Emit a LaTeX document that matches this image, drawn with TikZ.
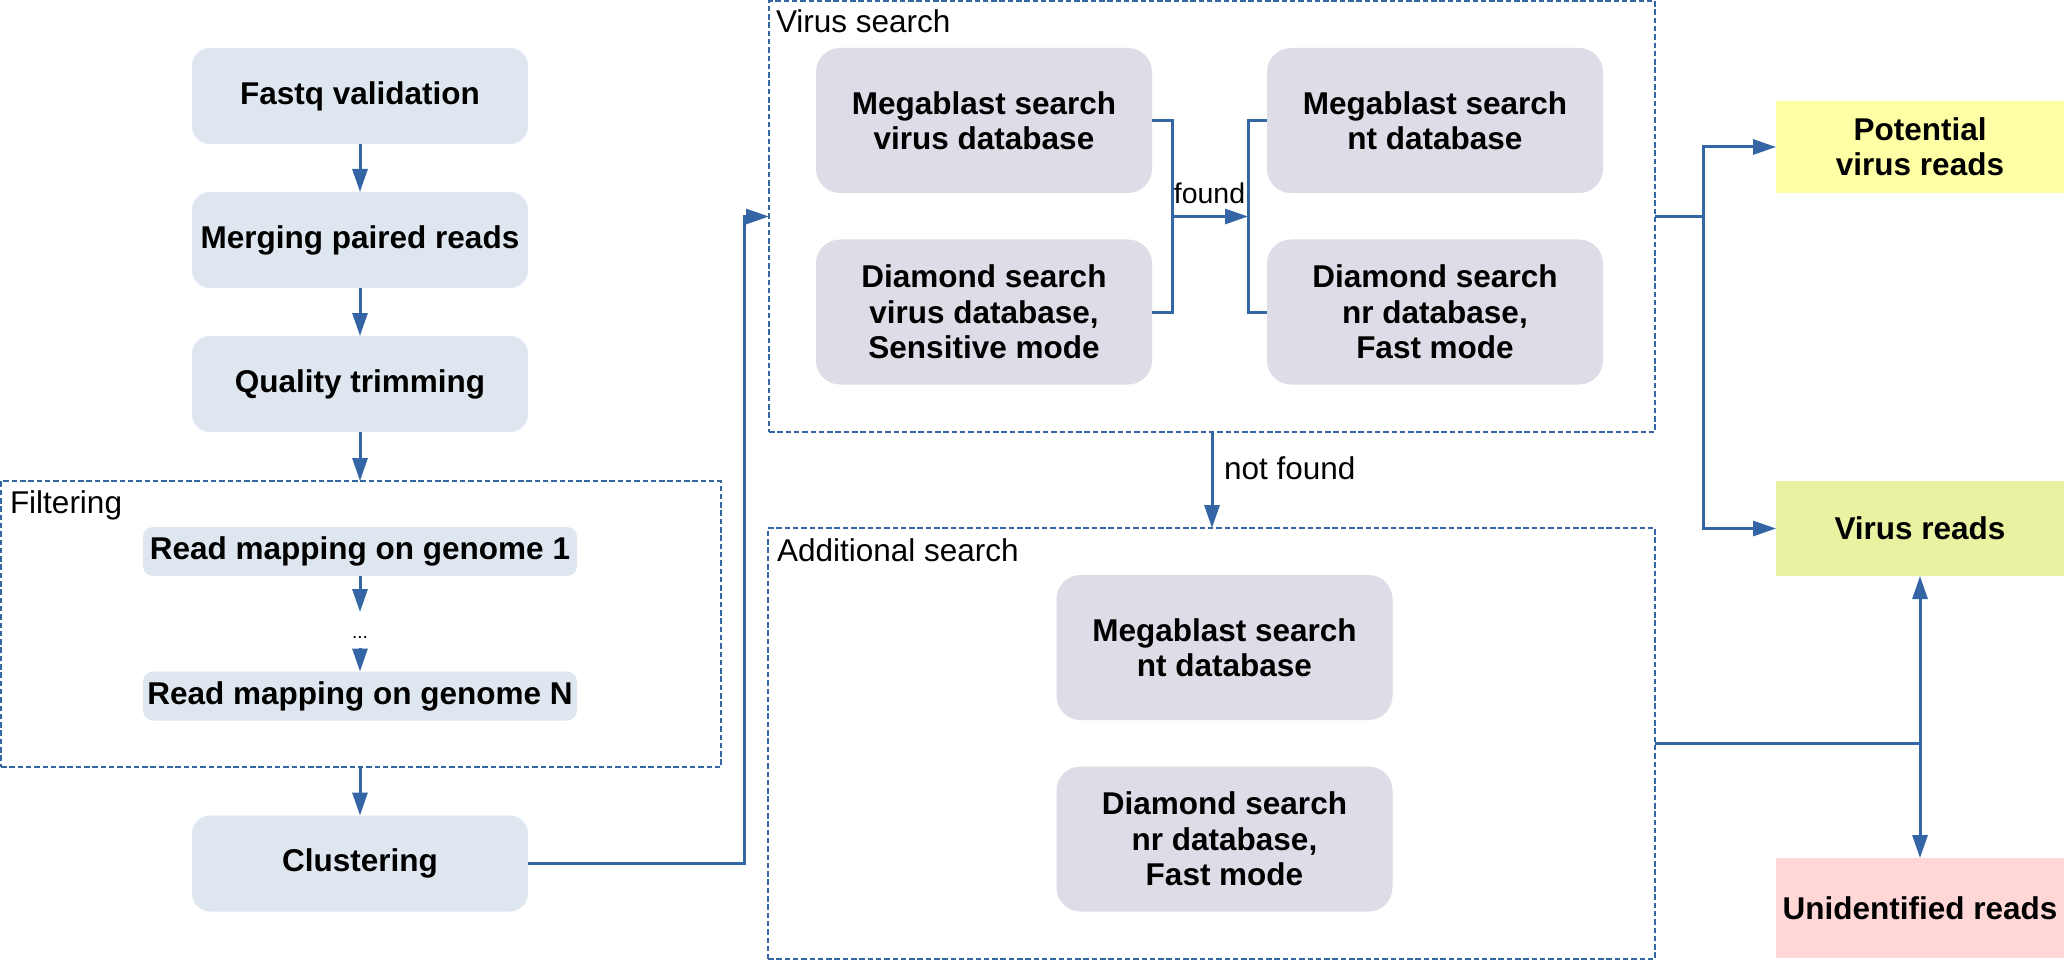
\documentclass[tikz,border=0pt]{standalone}
\usepackage{fontspec}
\setmainfont{Liberation Sans}
\usetikzlibrary{arrows.meta,calc}
\definecolor{lblue}{HTML}{3465A4}
\definecolor{boxA}{HTML}{DEE6EF}
\definecolor{boxB}{HTML}{DEDCE6}
\definecolor{potc}{HTML}{FFFFA6}
\definecolor{vrc}{HTML}{E8F2A1}
\definecolor{unc}{HTML}{FFD7D7}
\begin{document}
\begin{tikzpicture}[x=1pt,y=-1pt,
  every node/.style={inner sep=0pt, outer sep=0pt},
  stepbox/.style={fill=boxA, rounded corners=18pt, minimum width=336pt, minimum height=96pt, font=\bfseries\fontsize{31.5}{36}\selectfont, align=center},
  mapbox/.style={fill=boxA, rounded corners=10pt, minimum width=434pt, minimum height=49pt, font=\bfseries\fontsize{31.5}{36}\selectfont},
  srchbox/.style={fill=boxB, rounded corners=24pt, minimum width=336pt, minimum height=145pt, font=\bfseries\fontsize{31.5}{35.5}\selectfont, align=center},
  outbox/.style={minimum width=288pt, font=\bfseries\fontsize{31.5}{35}\selectfont, align=center},
  group/.style={draw=lblue, line width=1.3pt, dash pattern=on 5.5pt off 2.8pt},
  lbl/.style={font=\fontsize{31.5}{36}\selectfont},
  conn/.style={draw=lblue, line width=3pt},
  arr/.style={conn, -{Triangle[length=23pt,width=15pt]}},
]
\fill[white] (0,0) rectangle (2064,960);
\useasboundingbox (0,0) rectangle (2064,960);

% groups
\node[group, minimum width=720pt, minimum height=286pt, anchor=north west] (filt) at (1,481) {};
\node[group, minimum width=886pt, minimum height=431pt, anchor=north west] (vs) at (769,1) {};
\node[group, minimum width=887pt, minimum height=431pt, anchor=north west] (as) at (768,528) {};
\node[lbl, anchor=base west] (filtl) at (10,513) {Filtering};
\node[lbl, anchor=base west] (vsl) at (776,33) {Virus search};
\node[lbl, anchor=base west] (asl) at (777,561) {Additional search};

% left column
\node[stepbox] (fastq) at (360,96) {Fastq validation};
\node[stepbox] (merge) at (360,240) {Merging paired reads};
\node[stepbox] (qual) at (360,384) {Quality trimming};
\node[mapbox] (map1) at (360,551.5) {Read mapping on genome 1};
\node[font=\fontsize{19}{20}\selectfont, minimum height=36pt, text height=16pt, text depth=0pt] (dots) at (360,630) {...};
\node[mapbox] (mapN) at (360,696) {Read mapping on genome N};
\node[stepbox] (clust) at (360,863.5) {Clustering};

% virus search
\node[srchbox] (mbv) at (984,120.5) {Megablast search\\virus database};
\node[srchbox] (dmv) at (984,312) {Diamond search\\virus database,\\Sensitive mode};
\node[srchbox] (mbn) at (1435,120.5) {Megablast search\\nt database};
\node[srchbox] (dnr) at (1435,312) {Diamond search\\nr database,\\Fast mode};

% additional search
\node[srchbox] (mbn2) at (1224.5,647.5) {Megablast search\\nt database};
\node[srchbox] (dnr2) at (1224.5,839) {Diamond search\\nr database,\\Fast mode};

% outputs
\node[outbox, fill=potc, minimum height=92pt] (pot) at (1920,147) {Potential\\virus reads};
\node[outbox, fill=vrc, minimum height=95pt] (vr) at (1920,528.5) {Virus reads};
\node[outbox, fill=unc, minimum height=100pt] (un) at (1920,908) {Unidentified reads};

% left arrows
\draw[arr] (fastq) -- (merge);
\draw[arr] (merge) -- (qual);
\draw[arr] (qual.south) -- (qual.south |- filt.north);
\draw[arr] (map1) -- (dots);
\draw[arr] (dots) -- (mapN);
\draw[arr] (clust.north |- filt.south) -- (clust.north);
\coordinate (j1) at (744,216.5);
\draw[arr] (clust.east) -| (j1) -- (vs.west);

% brackets
\draw[conn] (mbv.east) -- ++(20,0) |- (dmv.east);
\coordinate (b1) at (1172,216.5);
\coordinate (b2) at (1248,216.5);
\draw[arr] (b1) -- (b2);
\node[font=\fontsize{28.5}{30}\selectfont, anchor=base] (fd) at (1209.5,204) {found};
\draw[conn] (mbn.west) -- ++(-19,0) |- (dnr.west);

% not found
\draw[arr] (vs.south) -- (vs.south |- as.north);
\node[lbl, anchor=base west] (nf) at (1224,479) {not found};

% right connectors
\coordinate (j2) at (1703,216.5);
\draw[conn] (vs.east) -- (j2);
\draw[arr] (j2) |- (pot.west);
\draw[arr] (j2) |- (vr.west);
\coordinate (j3) at (1920,743.5);
\draw[conn] (as.east) -- (j3);
\draw[arr] (j3) -- (vr.south);
\draw[arr] (j3) -- (un.north);
\end{tikzpicture}
\end{document}
